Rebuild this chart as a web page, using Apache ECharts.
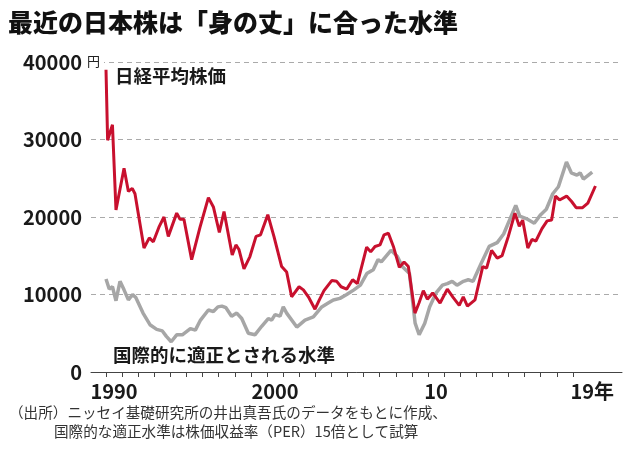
<!DOCTYPE html>
<html>
<head>
<meta charset="utf-8">
<style>
    html, body { margin: 0; padding: 0; background: #fff; }
    #chart { width: 630px; height: 457px; }
</style>
</head>
<body>
<div id="chart"></div>
<script src="https://cdn.jsdelivr.net/npm/echarts@6/dist/echarts.min.js"></script>
<script>
    // 日経平均株価 (年, 円)
    var nikkeiYears = [1990.0, 1990.1, 1990.4, 1990.62, 1991.12, 1991.39, 1991.63, 1991.8, 1992.36, 1992.69,
        1992.94, 1993.31, 1993.6, 1993.87, 1994.39, 1994.6, 1994.84, 1995.32, 1995.84, 1996.36,
        1996.67, 1997.04, 1997.33, 1997.84, 1998.07, 1998.26, 1998.57, 1998.94, 1999.32, 1999.6,
        2000.05, 2000.43, 2000.91, 2001.22, 2001.53, 2001.99, 2002.26, 2002.57, 2002.98, 2003.25,
        2003.54, 2004.02, 2004.33, 2004.6, 2004.95, 2005.32, 2005.61, 2006.19, 2006.44, 2006.71,
        2007.02, 2007.27, 2007.54, 2007.85, 2008.22, 2008.51, 2008.78, 2009.19, 2009.44, 2009.71,
        2009.96, 2010.29, 2010.75, 2011.2, 2011.57, 2011.94, 2012.19, 2012.45, 2012.92, 2013.4,
        2013.64, 2013.95, 2014.3, 2014.6, 2014.99, 2015.4, 2015.67, 2015.88, 2016.2, 2016.46,
        2016.7, 2017.08, 2017.4, 2017.68, 2017.92, 2018.17, 2018.61, 2018.92, 2019.2, 2019.6,
        2019.93, 2020.4];
    var nikkeiValues = [39000, 29900, 31900, 20900, 26300, 23300, 23700, 23000, 16000, 17300,
        16800, 18800, 20000, 17500, 20500, 19700, 19700, 14500, 18700, 22500,
        21300, 18000, 20700, 15100, 16400, 15800, 13300, 14900, 17500, 17700,
        20300, 17500, 13600, 12900, 9700, 11000, 10600, 9700, 8100, 9300,
        10500, 11800, 11700, 11000, 10700, 11900, 11400, 16100, 15500, 16200,
        16400, 17700, 17900, 16200, 13500, 14200, 13600, 7600, 8900, 10500,
        9400, 10200, 8900, 10700, 9600, 8600, 9700, 8500, 9300, 13600,
        13400, 15700, 14700, 15000, 17500, 20500, 18800, 19600, 16000, 17100,
        16900, 18500, 19500, 19600, 22700, 22200, 22700, 22000, 21200, 21200,
        21800, 24000];

    // 国際的に適正とされる水準 (PER15倍)
    var fairYears = [1990.0, 1990.2, 1990.4, 1990.62, 1990.87, 1991.12, 1991.39, 1991.65, 1991.85, 1992.3,
        1992.73, 1993.15, 1993.5, 1993.75, 1994.05, 1994.39, 1994.74, 1995.24, 1995.55, 1995.87,
        1996.36, 1996.67, 1996.95, 1997.2, 1997.45, 1997.8, 1998.12, 1998.43, 1998.84, 1999.25,
        1999.67, 2000.08, 2000.29, 2000.5, 2000.81, 2001.01, 2001.22, 2001.85, 2002.36, 2002.88,
        2003.4, 2003.8, 2004.12, 2004.53, 2004.95, 2005.4, 2005.8, 2006.2, 2006.6, 2006.9,
        2007.1, 2007.7, 2008.1, 2008.4, 2008.85, 2009.2, 2009.45, 2009.8, 2010.1, 2010.5,
        2010.9, 2011.2, 2011.5, 2011.8, 2012.2, 2012.5, 2012.8, 2013.3, 2013.8, 2014.3,
        2014.7, 2015.45, 2015.7, 2016.1, 2016.6, 2017.0, 2017.35, 2017.75, 2018.1, 2018.6,
        2018.9, 2019.25, 2019.45, 2019.65, 2020.2];
    var fairValues = [12000, 10700, 11000, 9200, 11700, 10600, 9300, 10000, 9600, 7600,
        6100, 5500, 5300, 4600, 3900, 4800, 4800, 5600, 5400, 6700,
        8000, 7800, 8400, 8500, 8300, 7200, 7600, 6900, 5000, 4800,
        5900, 6900, 6700, 7400, 7200, 8400, 7600, 5800, 6700, 7100,
        8400, 8900, 9300, 9500, 10000, 10600, 11200, 12700, 13200, 14500,
        14200, 15700, 14900, 13600, 12700, 6300, 4800, 6300, 8400, 10200,
        11200, 11400, 11700, 11200, 11700, 11900, 11700, 14000, 16200, 16700,
        17800, 21500, 20100, 19800, 19200, 20300, 21000, 23000, 23900, 27100,
        25700, 25400, 25700, 24900, 25800];

    var yearTicks = [1990, 1991, 1992, 1993, 1994, 1995, 1996, 1997, 1998, 1999,
        2000, 2001, 2002, 2003, 2004, 2005, 2006, 2007, 2008, 2009,
        2010, 2011, 2012, 2013, 2014, 2015, 2016, 2017, 2018, 2019];
    var yearLabelPos = [1990.5, 2000.5, 2010.5, 2020.2];
    var yearLabels = ['1990', '2000', '10', '19年'];

    function pairs(xs, ys) {
        var out = [];
        for (var i = 0; i < xs.length; i++) out.push([xs[i], ys[i]]);
        return out;
    }

    var font = '"Noto Sans CJK JP", "Noto Sans", sans-serif';
    var myChart = echarts.init(document.getElementById('chart'));
    var option = {
        animation: false,
        backgroundColor: '#fff',
        textStyle: { fontFamily: font },
        title: {
            text: '最近の日本株は「身の丈」に合った水準',
            left: 3,
            top: 5,
            textStyle: { fontFamily: font, fontSize: 25, fontWeight: 900, color: '#111' }
        },
        grid: { left: 91, right: 8, top: 62, bottom: 85 },
        xAxis: [
            {
                // 目盛り線用
                type: 'value',
                min: 1989.068,
                max: 2022.05,
                axisLine: { show: true, lineStyle: { color: '#444', width: 1 } },
                axisTick: { show: true, customValues: yearTicks, length: 5, lineStyle: { color: '#444' } },
                axisLabel: { show: false },
                splitLine: { show: false }
            },
            {
                // 年ラベル用 (目盛りの間の中央に置く)
                type: 'value',
                position: 'bottom',
                min: 1989.068,
                max: 2022.05,
                axisLine: { show: false },
                axisTick: { show: false },
                axisLabel: {
                    customValues: yearLabelPos,
                    formatter: function (v) {
                        for (var i = 0; i < yearLabelPos.length; i++) {
                            if (Math.abs(yearLabelPos[i] - v) < 0.01) return yearLabels[i];
                        }
                        return '';
                    },
                    showMinLabel: true,
                    showMaxLabel: true,
                    hideOverlap: false,
                    margin: 9,
                    fontFamily: font,
                    fontSize: 20,
                    fontWeight: 'bold',
                    color: '#1a1a1a'
                },
                splitLine: { show: false }
            }
        ],
        yAxis: {
            type: 'value',
            min: 0,
            max: 40000,
            interval: 10000,
            axisLine: { show: false },
            axisTick: { show: false },
            axisLabel: {
                margin: 9,
                formatter: function (v) { return String(v); },
                fontFamily: font,
                fontSize: 20,
                fontWeight: 'bold',
                color: '#1a1a1a'
            },
            splitLine: { lineStyle: { color: '#aaa', type: [5, 4], width: 1 } }
        },
        graphic: [
            {
                type: 'text', left: 86, top: 55, z: 100,
                style: { text: '円', font: '13px ' + font, fill: '#222', backgroundColor: '#fff', padding: [0, 4, 0, 1] }
            },
            {
                type: 'text', left: 115, top: 67,
                style: { text: '日経平均株価', font: 'bold 18.5px ' + font, fill: '#1a1a1a' }
            },
            {
                type: 'text', left: 113, top: 346,
                style: { text: '国際的に適正とされる水準', font: 'bold 18.5px ' + font, fill: '#1a1a1a' }
            },
            {
                type: 'text', left: 9, top: 405,
                style: { text: '（出所）ニッセイ基礎研究所の井出真吾氏のデータをもとに作成、', font: '14.6px ' + font, fill: '#333' }
            },
            {
                type: 'text', left: 54, top: 424,
                style: { text: '国際的な適正水準は株価収益率（PER）15倍として試算', font: '14.6px ' + font, fill: '#333' }
            }
        ],
        series: [
            {
                name: '国際的に適正とされる水準',
                type: 'line',
                data: pairs(fairYears, fairValues),
                symbol: 'none',
                lineStyle: { color: '#a6a6a6', width: 3.5 },
                z: 2
            },
            {
                name: '日経平均株価',
                type: 'line',
                data: pairs(nikkeiYears, nikkeiValues),
                symbol: 'none',
                lineStyle: { color: '#c8102e', width: 3 },
                z: 3
            }
        ]
    };
    myChart.setOption(option);
</script>
</body>
</html>
